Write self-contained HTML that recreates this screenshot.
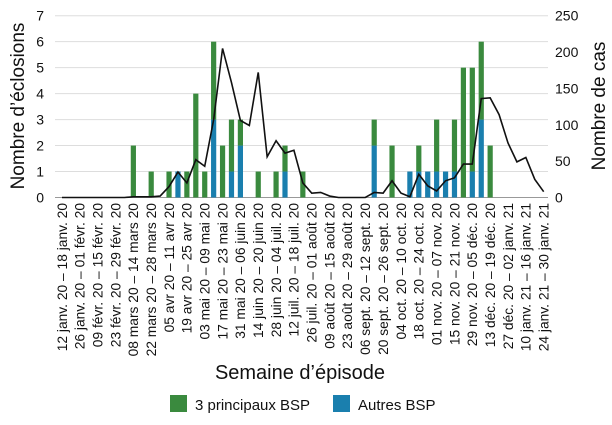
<!DOCTYPE html>
<html><head><meta charset="utf-8"><style>
body{margin:0;background:#fff}
svg{font-family:"Liberation Sans",sans-serif}
</style></head><body>
<svg id="chart" width="612" height="420" viewBox="0 0 612 420" xmlns="http://www.w3.org/2000/svg">
<g id="grid"></g><g id="bars"></g><g id="line"></g><g id="axes"></g>
<text x="300" y="379" font-size="20" text-anchor="middle" fill="#111">Semaine d’épisode</text>
<text transform="translate(24,106) rotate(-90)" font-size="19" text-anchor="middle" fill="#111">Nombre d’éclosions</text>
<text transform="translate(605,106) rotate(-90)" font-size="19" text-anchor="middle" fill="#111">Nombre de cas</text>
<g>
<rect x="170" y="395" width="17" height="17" fill="#3a8a3e"/>
<text x="195" y="410" font-size="15" fill="#111">3 principaux BSP</text>
<rect x="333" y="395" width="17" height="17" fill="#1a7fae"/>
<text x="358" y="410" font-size="15" fill="#111">Autres BSP</text>
</g>
</svg>
<script>
const weeks = 55;
const green = [0,0,0,0,0,0,0,0,2,0,1,0,1,0,1,4,1,3,2,2,1,0,1,0,1,1,0,1,0,0,0,0,0,0,0,1,0,2,0,0,1,0,2,0,2,5,4,3,2,0,0,0,0,0,0];
const blue  = [0,0,0,0,0,0,0,0,0,0,0,0,0,1,0,0,0,3,0,1,2,0,0,0,0,1,0,0,0,0,0,0,0,0,0,2,0,0,0,1,1,1,1,1,1,0,1,3,0,0,0,0,0,0,0];
const cases = [0,0,0,0,0,0,0,0,1,1,1,2,15,35,20,52,43,107,205,158,106,99,172,56,78,61,65,20,6,7,2,0,0,0,0,7,6,23,6,1,32,16,9,23,27,46,46,136,137,114,75,49,55,25,8];
const leftTicks = [0,1,2,3,4,5,6,7];
const rightTicks = [0,50,100,150,200,250];
const tickLabels = ["12 janv. 20 – 18 janv. 20","26 janv. 20 – 01 févr. 20","09 févr. 20 – 15 févr. 20","23 févr. 20 – 29 févr. 20","08 mars 20 – 14 mars 20","22 mars 20 – 28 mars 20","05 avr 20 – 11 avr 20","19 avr 20 – 25 avr 20","03 mai 20 – 09 mai 20","17 mai 20 – 23 mai 20","31 mai 20 – 06 juin 20","14 juin 20 – 20 juin 20","28 juin 20 – 04 juil. 20","12 juil. 20 – 18 juil. 20","26 juil. 20 – 01 août 20","09 août 20 – 15 août 20","23 août 20 – 29 août 20","06 sept. 20 – 12 sept. 20","20 sept. 20 – 26 sept. 20","04 oct. 20 – 10 oct. 20","18 oct. 20 – 24 oct. 20","01 nov. 20 – 07 nov. 20","15 nov. 20 – 21 nov. 20","29 nov. 20 – 05 déc. 20","13 déc. 20 – 19 déc. 20","27 déc. 20 – 02 janv. 21","10 janv. 21 – 16 janv. 21","24 janv. 21 – 30 janv. 21"];
const NS="http://www.w3.org/2000/svg";
const x0=62, dx=8.92, yb=197.5, yt=15.7;
const X=i=>x0+i*dx;
const YL=v=>yb-(v/7)*(yb-yt);
const YR=v=>yb-(v/250)*(yb-yt);
function mk(t,a,p){const e=document.createElementNS(NS,t);for(const k in a)e.setAttribute(k,a[k]);p.appendChild(e);return e;}
const grid=document.getElementById('grid'),bars=document.getElementById('bars'),ln=document.getElementById('line'),axes=document.getElementById('axes');
leftTicks.forEach(v=>{
  const g=mk('line',{x1:55,x2:548,y1:YL(v),y2:YL(v),stroke:v===0?'#999':'#ddd','stroke-width':1},grid);
  
  
  const t=mk('text',{x:44,y:YL(v)+5,'font-size':14,'text-anchor':'end',fill:'#111'},axes);
  t.textContent=v;
  
  
});
rightTicks.forEach(v=>{
  const t=mk('text',{x:555,y:YR(v)+5,'font-size':14,fill:'#111'},axes);
  t.textContent=v;
  
  
});
for(let i=0;i<weeks;i++){
  const b=blue[i],g=green[i];
  if(b>0){const r=mk('rect',{x:X(i)-2.6,y:YL(b),width:5.2,height:yb-YL(b),fill:'#1a7fae'},bars);
    
    }
  if(g>0){const r=mk('rect',{x:X(i)-2.6,y:YL(b+g),width:5.2,height:YL(b)-YL(b+g),fill:'#3a8a3e'},bars);
    
    }
}
const pl=mk('polyline',{points:cases.map((v,i)=>X(i)+','+YR(v)).join(' '),fill:'none',stroke:'#111','stroke-width':1.6},ln);


tickLabels.forEach((s,k)=>{
  const x=X(k*2);
  const t=mk('text',{transform:`translate(${x+4.8},203) rotate(-90)`,'font-size':13.8,'text-anchor':'end',fill:'#111'},axes);
  t.textContent=s;
  
  
});
</script>
</body></html>
